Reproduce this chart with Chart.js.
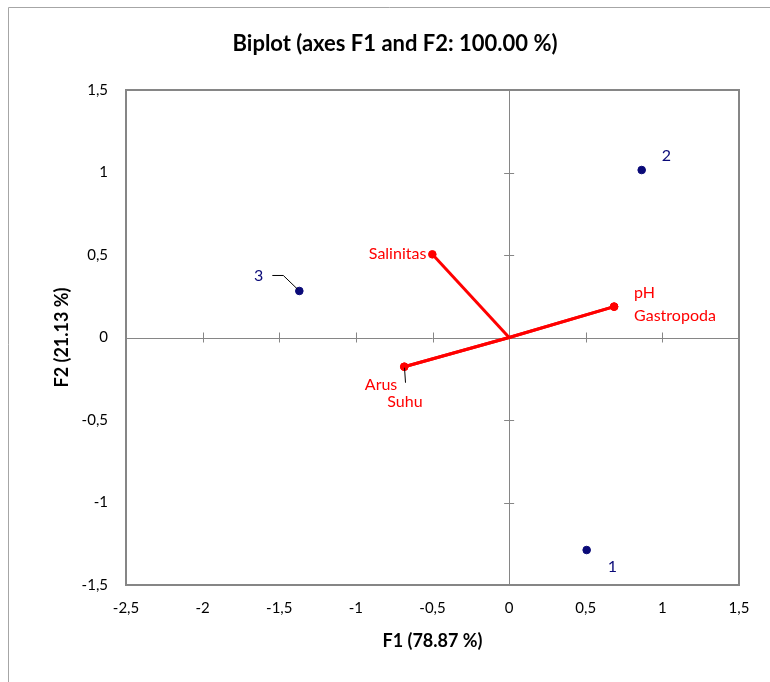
<!DOCTYPE html>
<html>
<head>
<meta charset="utf-8">
<script src="https://cdn.jsdelivr.net/npm/chart.js@4.4.1/dist/chart.umd.min.js"></script>
<style>
  body { margin: 0; background: #fff; }
  #wrap { width: 770px; height: 682px; }
</style>
</head>
<body>
<div id="wrap"><canvas id="myChart" width="770" height="682"></canvas></div>
<script>
// observations (F1, F2)
const obsLabels = ["1", "2", "3"];
const obsF1 = [0.506, 0.865, -1.369];
const obsF2 = [-1.288, 1.015, 0.282];

// variables (F1, F2)
const varLabels = ["Salinitas", "pH", "Gastropoda", "Arus", "Suhu"];
const varF1 = [-0.501, 0.685, 0.685, -0.684, -0.684];
const varF2 = [0.504, 0.187, 0.187, -0.177, -0.177];

// tick labels
const xTicks = [-2.5, -2, -1.5, -1, -0.5, 0, 0.5, 1, 1.5];
const yTicks = [-1.5, -1, -0.5, 0, 0.5, 1, 1.5];

const chartTitle = "Biplot (axes F1 and F2: 100.00 %)";
const xTitle = "F1 (78.87 %)";
const yTitle = "F2 (21.13 %)";

const FONT = "Lato, 'Open Sans', sans-serif";
const NAVY = "#0a0a78";
const RED = "#ff0000";
const GRAY = "#868686";

function fmt(v) {
	return String(v).replace(".", ",");
}

// label offsets relative to the point (px)
const obsLabelPos = {
	"1": {dx: 21, dy: 17, align: "left"},
	"2": {dx: 20, dy: -14, align: "left"},
	"3": {dx: -36, dy: -15, align: "right"}
};
const varLabelPos = {
	"Salinitas": {dx: -6, dy: 0, align: "right"},
	"pH": {dx: 20, dy: -14, align: "left"},
	"Gastropoda": {dx: 20, dy: 9, align: "left"},
	"Arus": {dx: -7, dy: 18, align: "right"},
	"Suhu": {dx: -17, dy: 35, align: "left"}
};

const datasets = [];
datasets.push({
	label: "obs",
	data: obsF1.map((x, i) => ({x: x, y: obsF2[i]})),
	showLine: false,
	pointRadius: 3.8,
	pointHoverRadius: 3.8,
	pointBorderWidth: 1,
	pointBackgroundColor: NAVY,
	pointBorderColor: NAVY,
	order: 1
});
varLabels.forEach((name, i) => {
	datasets.push({
		label: name,
		data: [{x: 0, y: 0}, {x: varF1[i], y: varF2[i]}],
		showLine: true,
		borderColor: RED,
		borderWidth: 3,
		pointRadius: [0, 3.8],
		pointHoverRadius: [0, 3.8],
		pointBorderWidth: 1,
		pointBackgroundColor: RED,
		pointBorderColor: RED,
		order: 0
	});
});

const framePlugin = {
	id: "frame",
	beforeDraw(chart) {
		const c = chart.ctx;
		c.save();
		c.strokeStyle = "#a6a6a6";
		c.lineWidth = 1;
		c.beginPath();
		c.moveTo(8.5, 682);
		c.lineTo(8.5, 7.5);
		c.lineTo(770, 7.5);
		c.stroke();
		// title
		c.fillStyle = "#000";
		c.font = "bold 22px " + FONT;
		c.textAlign = "center";
		c.textBaseline = "middle";
		c.fillText(chartTitle, 395, 44);
		c.restore();
	},
	beforeDatasetsDraw(chart) {
		const c = chart.ctx;
		const a = chart.chartArea;
		const xs = chart.scales.x, ys = chart.scales.y;
		const x0 = xs.getPixelForValue(0), y0 = ys.getPixelForValue(0);
		c.save();
		c.strokeStyle = GRAY;
		c.lineWidth = 1;
		c.beginPath();
		c.moveTo(a.left, Math.round(y0) + 0.5);
		c.lineTo(a.right, Math.round(y0) + 0.5);
		c.moveTo(Math.round(x0) + 0.5, a.top);
		c.lineTo(Math.round(x0) + 0.5, a.bottom);
		xTicks.forEach(v => {
			if (v === 0) return;
			const px = Math.round(xs.getPixelForValue(v)) + 0.5;
			c.moveTo(px, y0 - 5);
			c.lineTo(px, y0 + 5);
		});
		yTicks.forEach(v => {
			if (v === 0) return;
			const py = Math.round(ys.getPixelForValue(v)) + 0.5;
			c.moveTo(x0 - 5, py);
			c.lineTo(x0 + 5, py);
		});
		c.stroke();
		c.lineWidth = 2;
		c.strokeRect(a.left, a.top, a.right - a.left, a.bottom - a.top);
		c.restore();
	},
	afterDatasetsDraw(chart) {
		const c = chart.ctx;
		const xs = chart.scales.x, ys = chart.scales.y;
		c.save();
		c.font = "16px " + FONT;
		c.textBaseline = "middle";
		// leader lines
		c.strokeStyle = "#000";
		c.lineWidth = 1;
		let p3 = {x: xs.getPixelForValue(obsF1[2]), y: ys.getPixelForValue(obsF2[2])};
		c.beginPath();
		c.moveTo(p3.x - 27, p3.y - 15.5);
		c.lineTo(p3.x - 16, p3.y - 15.5);
		c.lineTo(p3.x - 2, p3.y - 2);
		c.stroke();
		let pa = {x: xs.getPixelForValue(varF1[3]), y: ys.getPixelForValue(varF2[3])};
		c.beginPath();
		c.moveTo(Math.round(pa.x) + 0.5, pa.y + 1);
		c.lineTo(Math.round(pa.x) + 1.5, pa.y + 16);
		c.stroke();

		c.fillStyle = NAVY;
		obsLabels.forEach((t, i) => {
			const o = obsLabelPos[t];
			c.textAlign = o.align;
			c.fillText(t, xs.getPixelForValue(obsF1[i]) + o.dx, ys.getPixelForValue(obsF2[i]) + o.dy);
		});
		c.fillStyle = RED;
		varLabels.forEach((t, i) => {
			const o = varLabelPos[t];
			c.textAlign = o.align;
			c.fillText(t, xs.getPixelForValue(varF1[i]) + o.dx, ys.getPixelForValue(varF2[i]) + o.dy);
		});
		c.restore();
	}
};

const ctx = document.getElementById("myChart").getContext("2d");
const myChart = new Chart(ctx, {
	type: "scatter",
	data: {datasets: datasets},
	options: {
		responsive: false,
		animation: false,
		layout: {padding: {left: 0, right: 31, top: 90, bottom: 0}},
		plugins: {
			legend: {display: false},
			title: {display: false},
			tooltip: {enabled: false}
		},
		scales: {
			x: {
				type: "linear",
				min: -2.5,
				max: 1.5,
				afterBuildTicks: s => { s.ticks = xTicks.map(v => ({value: v})); },
				afterFit: s => { s.height = 97; },
				grid: {display: false, drawTicks: false},
				border: {display: false},
				ticks: {
					padding: 14,
					color: "#000",
					font: {family: FONT, size: 15},
					maxRotation: 0,
					autoSkip: false,
					callback: v => fmt(v)
				},
				title: {
					display: true,
					text: xTitle,
					color: "#000",
					font: {family: FONT, size: 18, weight: "bold"},
					padding: {top: 0, bottom: 30}
				}
			},
			y: {
				type: "linear",
				min: -1.5,
				max: 1.5,
				afterBuildTicks: s => { s.ticks = yTicks.map(v => ({value: v})); },
				afterFit: s => { s.width = 126; },
				grid: {display: false, drawTicks: false},
				border: {display: false},
				ticks: {
					padding: 18,
					color: "#000",
					font: {family: FONT, size: 15},
					autoSkip: false,
					callback: v => fmt(v)
				},
				title: {
					display: true,
					text: yTitle,
					color: "#000",
					font: {family: FONT, size: 18, weight: "bold"},
					padding: {top: 51, bottom: 0}
				}
			}
		}
	},
	plugins: [framePlugin]
});
</script>
</body>
</html>
